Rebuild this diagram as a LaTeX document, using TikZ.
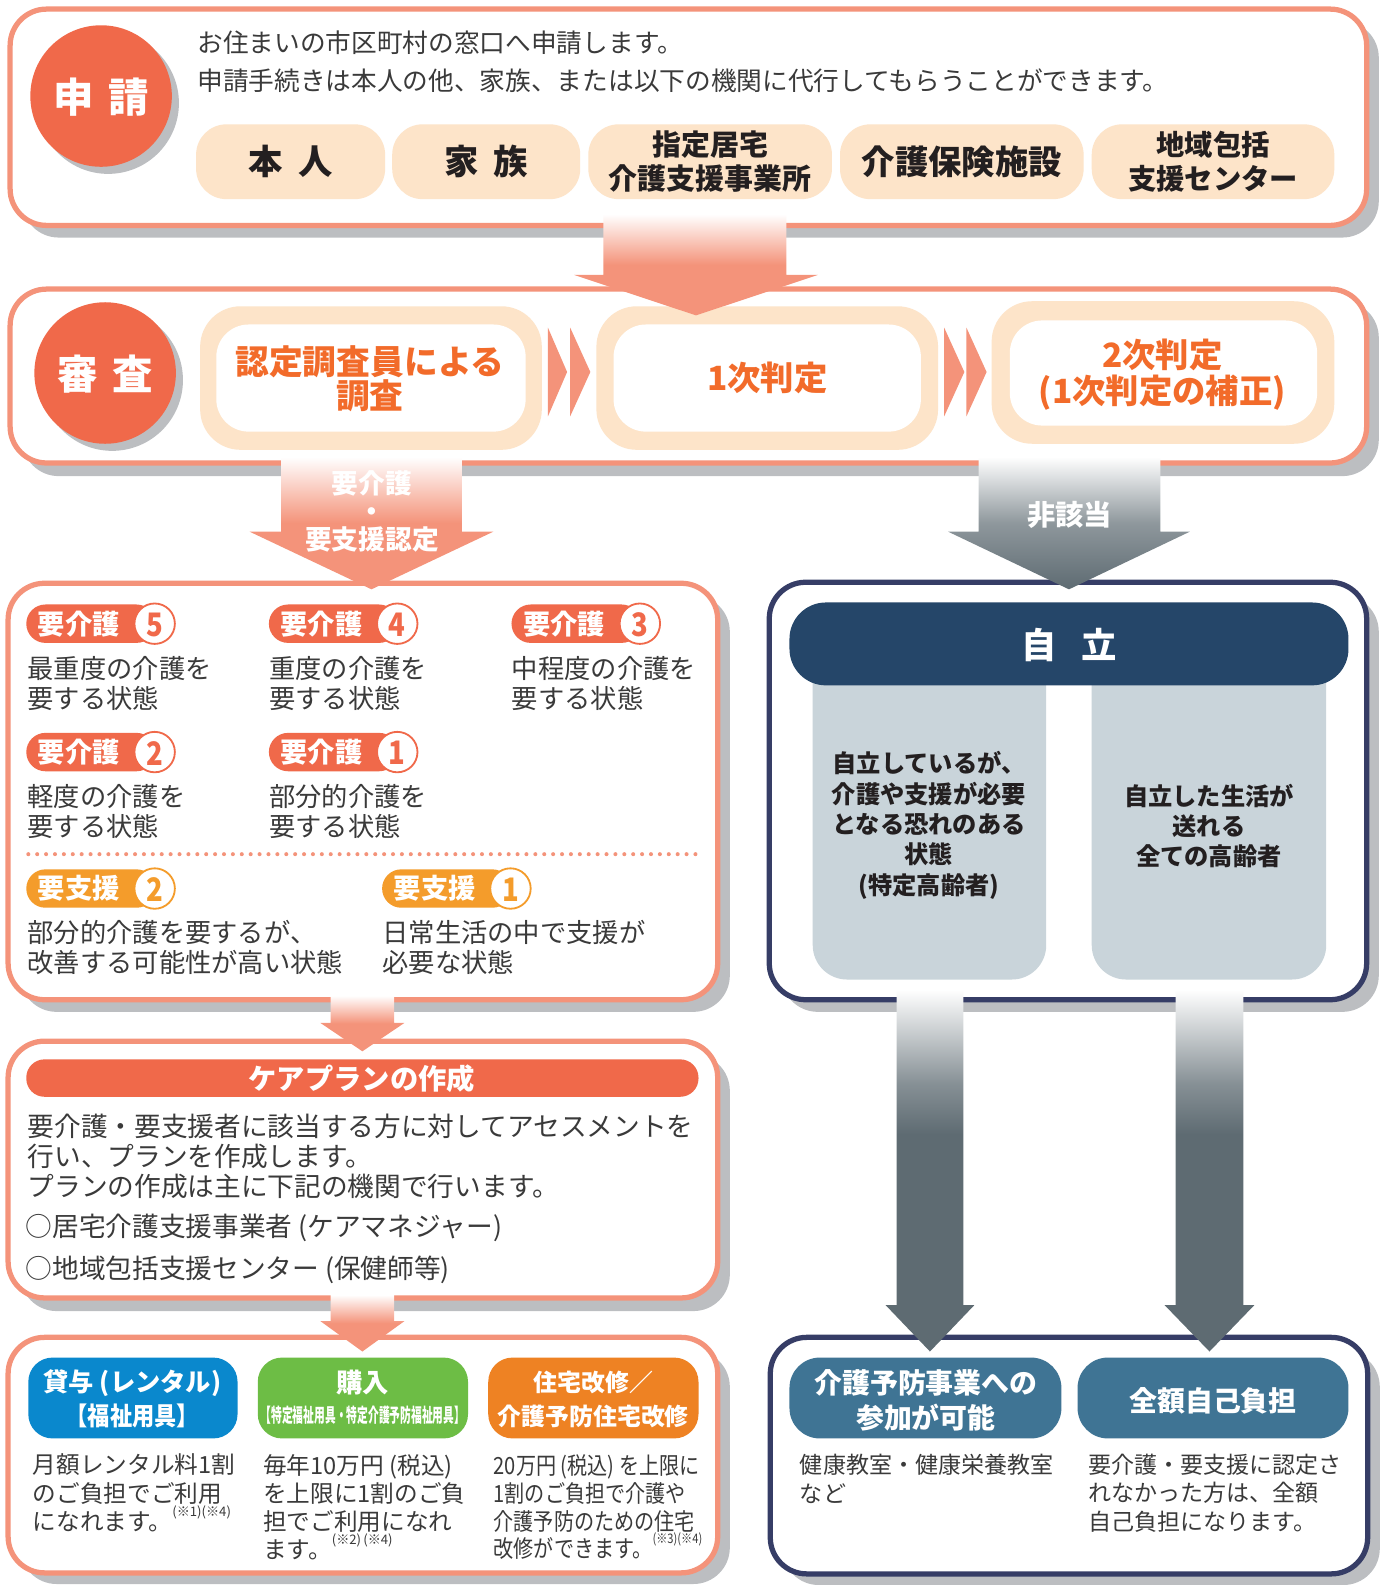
\documentclass[tikz,border=0pt]{standalone}
\usepackage{fontspec}
\setmainfont{Noto Sans CJK JP}
\usepackage{graphicx}
\definecolor{salmon}{HTML}{F4937A}
\definecolor{redorange}{HTML}{F0694A}
\definecolor{txtorange}{HTML}{F26B2A}
\definecolor{peach}{HTML}{FDE4C9}
\definecolor{shadowgray}{HTML}{BCBEC1}
\definecolor{navyline}{HTML}{363D66}
\definecolor{navyfill}{HTML}{254669}
\definecolor{panelgray}{HTML}{C9D4DA}
\definecolor{tealhead}{HTML}{3F7494}
\definecolor{arrowgray}{HTML}{5E6B72}
\definecolor{shienorange}{HTML}{F49C2B}
\definecolor{bluehead}{HTML}{0A88CD}
\definecolor{greenhead}{HTML}{6DBD45}
\definecolor{orangehead}{HTML}{EE8223}
\definecolor{txt}{HTML}{3A3A3A}
\definecolor{dark}{HTML}{231F20}
\pgfdeclareverticalshading{salmonfade}{100bp}{color(0bp)=(salmon); color(25bp)=(salmon); color(50bp)=(salmon); color(75bp)=(white); color(100bp)=(white)}
\pgfdeclareverticalshading{grayfade}{100bp}{color(0bp)=(arrowgray); color(25bp)=(arrowgray); color(50bp)=(arrowgray!70!white); color(75bp)=(white); color(100bp)=(white)}
\pgfdeclareverticalshading{graylong}{100bp}{color(0bp)=(arrowgray); color(25bp)=(arrowgray); color(55bp)=(arrowgray); color(62bp)=(arrowgray!75!white); color(75bp)=(white); color(100bp)=(white)}
\newcommand{\fsz}[2]{\fontsize{#1}{#2}\selectfont}
\newcommand{\barrow}[8]{%
  \shade[shading=#1] (#2,#4) -- (#3,#4) -- (#3,#5) -- (#7,#5) -- ({(#6+#7)/2},#8) -- (#6,#5) -- (#2,#5) -- cycle;}
\newcommand{\badge}[6]{%
  \fill[#4, rounded corners=9.5pt] (#2,{#3-19}) rectangle ({#2+128},{#3+19});
  \node[circle, fill=white, draw=#4, line width=0.9pt, minimum size=20pt] (#1c) at ({#2+127},#3) {};
  \node[font=\fsz{16}{18}\bfseries, text=#4] (#1n) at ({#2+127},{#3+1}) {\scalebox{0.85}[1]{#6}};
  \node[font=\fsz{13.5}{16}\bfseries, text=white] (#1l) at ({#2+52},#3) {#5};}
\newcommand{\note}[1]{\raisebox{0.6em}{\fsz{6.5}{7}#1}}
\begin{document}
\begin{tikzpicture}[x=0.5pt,y=-0.5pt,
  every node/.style={inner sep=0pt, text=txt},
  sbox/.style={draw=salmon, line width=2.6pt, fill=white, rounded corners=18pt},
  nbox/.style={draw=navyline, line width=2.6pt, fill=white, rounded corners=18pt},
  shad/.style={fill=shadowgray, rounded corners=18pt},
  pill/.style={fill=peach, rounded corners=15pt},
  pilltxt/.style={text=dark, align=center},
  ortxt/.style={text=txtorange, align=center, font=\fsz{16.5}{17.5}\bfseries},
  wtxt/.style={text=white, align=center},
  chev/.style={fill=salmon}]
\useasboundingbox (0,0) rectangle (1376,1568);

% ---------- Box 1 ----------
\fill[shad] (22,21) rectangle (1364,235);
\draw[sbox] (10,9) rectangle (1352,223);
\fill[shadowgray] (107,102) circle[radius=35pt];
\fill[redorange] (100,95) circle[radius=35pt];
\node[wtxt, font=\fsz{20}{24}\bfseries] (shinsei) at (100,96) {申\hspace{0.35em}請};
\node[anchor=west, font=\fsz{12.7}{15}] (l1) at (195,42) {お住まいの市区町村の窓口へ申請します。};
\node[anchor=west, font=\fsz{12.7}{15}] (l2) at (195,80) {申請手続きは本人の他、家族、または以下の機関に代行してもらうことができます。};
\fill[pill] (194,123) rectangle (381,197);
\fill[pill] (388,123) rectangle (574,197);
\fill[pill] (582,123) rectangle (823,197);
\fill[pill] (831,123) rectangle (1072,197);
\fill[pill] (1080,123) rectangle (1320,197);
\node[pilltxt, font=\fsz{17}{20}\bfseries] (honnin) at (287.5,160) {本\hspace{0.45em}人};
\node[pilltxt, font=\fsz{17}{20}\bfseries] (kazoku) at (481,160) {家\hspace{0.45em}族};
\node[pilltxt, font=\fsz{14.3}{17}\bfseries] (shitei) at (702.5,160) {指定居宅\\介護支援事業所};
\node[pilltxt, font=\fsz{16.5}{20}\bfseries] (shisetsu) at (951.5,160) {介護保険施設};
\node[pilltxt, font=\fsz{14}{17}\bfseries] (chiiki) at (1200,160) {地域包括\\支援センター};

% ---------- Box 2 ----------
\fill[shad] (22,298) rectangle (1364,471);
\draw[sbox] (10,286) rectangle (1352,458);
\fill[shadowgray] (111,376) circle[radius=35pt];
\fill[redorange] (104,369) circle[radius=35pt];
\node[wtxt, font=\fsz{20}{24}\bfseries] (shinsa) at (104,370) {審\hspace{0.35em}査};
\fill[peach, rounded corners=20pt] (198,303) rectangle (536,445);
\fill[white, rounded corners=16pt] (214,321) rectangle (520,427);
\fill[peach, rounded corners=20pt] (590,303) rectangle (928,445);
\fill[white, rounded corners=16pt] (607,321) rectangle (911,427);
\fill[peach, rounded corners=20pt] (981,298) rectangle (1320,439);
\fill[white, rounded corners=16pt] (999,317) rectangle (1303,421);
\node[ortxt, font=\fsz{16.7}{16.5}\bfseries] (chosa) at (366,374.5) {認定調査員による\\調査};
\node[ortxt] (ichiji) at (759,374) {1次判定};
\node[ortxt] (niji) at (1150,370.5) {2次判定\\(1次判定の補正)};
\fill[chev] (542,324) -- (561,368) -- (542,412) -- cycle;
\fill[chev] (564,324) -- (584,368) -- (564,412) -- cycle;
\fill[chev] (934,324) -- (954,368) -- (934,412) -- cycle;
\fill[chev] (956,324) -- (976,368) -- (956,412) -- cycle;

% ---------- Box 3 ----------
\fill[shad] (20,589) rectangle (722,1001);
\draw[sbox] (8,577) rectangle (710,989);
\badge{k5}{26}{617}{redorange}{要介護}{5}
\badge{k4}{266}{617}{redorange}{要介護}{4}
\badge{k3}{506}{617}{redorange}{要介護}{3}
\badge{k2}{26}{744}{redorange}{要介護}{2}
\badge{k1}{266}{744}{redorange}{要介護}{1}
\badge{s2}{26}{879}{shienorange}{要支援}{2}
\badge{s1}{378}{879}{shienorange}{要支援}{1}
\node[anchor=west, align=left, font=\fsz{13}{15}] (d5) at (27,676) {最重度の介護を\\要する状態};
\node[anchor=west, align=left, font=\fsz{13}{15}] (d4) at (266,676) {重度の介護を\\要する状態};
\node[anchor=west, align=left, font=\fsz{13}{15}] (d3) at (506,676) {中程度の介護を\\要する状態};
\node[anchor=west, align=left, font=\fsz{13}{15}] (d2) at (27,803) {軽度の介護を\\要する状態};
\node[anchor=west, align=left, font=\fsz{13}{15}] (d1) at (266,803) {部分的介護を\\要する状態};
\draw[salmon, line width=2pt, line cap=round, dash pattern=on 0pt off 4.4pt] (28,845) -- (691,845);
\node[anchor=west, align=left, font=\fsz{13}{15}] (ds2) at (27,937.5) {部分的介護を要するが、\\改善する可能性が高い状態};
\node[anchor=west, align=left, font=\fsz{13}{15}] (ds1) at (378,937.5) {日常生活の中で支援が\\必要な状態};

% ---------- Box 4 ----------
\fill[shad] (20,1043) rectangle (722,1297);
\draw[sbox] (8,1030) rectangle (710,1284);
\fill[redorange, rounded corners=9pt] (26,1048) rectangle (691,1085);
\node[wtxt, font=\fsz{14}{17}\bfseries] (careplan) at (358,1067) {ケアプランの作成};
\node[anchor=west, align=left, font=\fsz{13.2}{14.8}] (cp1) at (27,1144) {要介護・要支援者に該当する方に対してアセスメントを\\行い、プランを作成します。\\プランの作成は主に下記の機関で行います。};
\node[anchor=west, font=\fsz{13.2}{15}] (cp2) at (25,1215) {○居宅介護支援事業者 (ケアマネジャー)};
\node[anchor=west, font=\fsz{13.2}{15}] (cp3) at (25,1256) {○地域包括支援センター (保健師等)};

% ---------- Box 5 ----------
\fill[shad] (20,1336) rectangle (722,1567);
\draw[sbox] (8,1323) rectangle (710,1556);
\fill[bluehead, rounded corners=12pt] (28,1343) rectangle (235,1423);
\fill[greenhead, rounded corners=12pt] (255,1343) rectangle (463,1423);
\fill[orangehead, rounded corners=12pt] (483,1343) rectangle (691,1423);
\node[wtxt, font=\fsz{12.5}{16.5}\bfseries] (taiyo1) at (131,1368) {貸与 (レンタル)};
\node[wtxt, font=\fsz{12.5}{16.5}\bfseries] (taiyo2) at (131,1401) {\scalebox{0.88}[1]{【福祉用具】}};
\node[wtxt, font=\fsz{13}{16.5}\bfseries] (konyu1) at (359,1368) {購入};
\node[wtxt, font=\fsz{9.5}{11}\bfseries] (konyu2) at (359,1400) {\scalebox{0.56}[1]{【特定福祉用具・特定介護予防福祉用具】}};
\node[wtxt, font=\fsz{11.8}{16.5}\bfseries] (jutaku1) at (587,1368) {住宅改修／};
\node[wtxt, font=\fsz{11.8}{16.5}\bfseries] (jutaku2) at (587,1401) {介護予防住宅改修};
\node[anchor=west, align=left, font=\fsz{11.7}{14}] (c1) at (32,1477) {月額レンタル料1割\\のご負担でご利用\\になれます。\note{(※1)(※4)}};
\node[anchor=west, align=left, font=\fsz{11.7}{13.8}] (c2) at (260,1491) {毎年10万円 (税込)\\を上限に1割のご負\\担でご利用になれ\\ます。\note{(※2)\,(※4)}};
\node[anchor=west, align=left, font=\fsz{11.7}{13.8}] (c3) at (488,1491) {\scalebox{0.85}[1]{20万円 (税込) を上限に}\\\scalebox{0.85}[1]{1割のご負担で介護や}\\\scalebox{0.85}[1]{介護予防のための住宅}\\\scalebox{0.85}[1]{改修ができます。\note{(※3)(※4)}}};

% ---------- Box 6 ----------
\fill[shad] (773,589) rectangle (1364,1001);
\draw[nbox] (761,576) rectangle (1352,989);
\fill[panelgray, rounded corners=17pt] (804,640) rectangle (1035,969);
\fill[panelgray, rounded corners=17pt] (1080,640) rectangle (1312,969);
\fill[navyfill, rounded corners=18pt] (781,596) rectangle (1334,678);
\node[wtxt, font=\fsz{17.5}{20}\bfseries] (jiritsu) at (1058,638) {自\hspace{0.7em}立};
\node[align=center, text=dark, font=\fsz{12}{15}\bfseries] (p1) at (919,816.5) {自立しているが、\\介護や支援が必要\\となる恐れのある\\状態\\(特定高齢者)};
\node[align=center, text=dark, font=\fsz{12}{15}\bfseries] (p2) at (1196,817) {自立した生活が\\送れる\\全ての高齢者};

% ---------- Box 7 ----------
\fill[shad] (774,1336) rectangle (1365,1568);
\draw[nbox] (762,1323) rectangle (1353,1557);
\fill[tealhead, rounded corners=15pt] (781,1343) rectangle (1050,1423);
\fill[tealhead, rounded corners=15pt] (1066,1343) rectangle (1334,1423);
\node[wtxt, font=\fsz{13.8}{17.5}\bfseries] (yobo) at (916,1385.5) {介護予防事業への\\参加が可能};
\node[wtxt, font=\fsz{13.8}{17.5}\bfseries] (zengaku) at (1200,1386) {全額自己負担};
\node[anchor=west, align=left, font=\fsz{11.4}{14}] (e1) at (791,1463) {健康教室・健康栄養教室\\など};
\node[anchor=west, align=left, font=\fsz{11.4}{14}] (e2) at (1076,1477) {要介護・要支援に認定さ\\れなかった方は、全額\\自己負担になります。};

% ---------- Arrows ----------
\barrow{salmonfade}{597}{778}{212}{272}{568}{809}{312}
\barrow{salmonfade}{278}{457}{452}{526}{247}{488}{583}
\barrow{grayfade}{968}{1148}{452}{526}{938}{1177}{583}
\barrow{salmonfade}{327}{390}{985}{1012}{317}{400}{1040}
\barrow{salmonfade}{327}{390}{1281}{1307}{317}{400}{1337}
\barrow{graylong}{887}{953}{979}{1291}{876}{964}{1337}
\barrow{graylong}{1163}{1230}{979}{1291}{1152}{1241}{1337}
\node[wtxt, font=\fsz{13.2}{13.8}\bfseries] (ykys) at (368,506) {要介護\\・\\要支援認定};
\node[wtxt, font=\fsz{14}{17}\bfseries] (hg) at (1058,509) {非該当};
\end{tikzpicture}
\end{document}
